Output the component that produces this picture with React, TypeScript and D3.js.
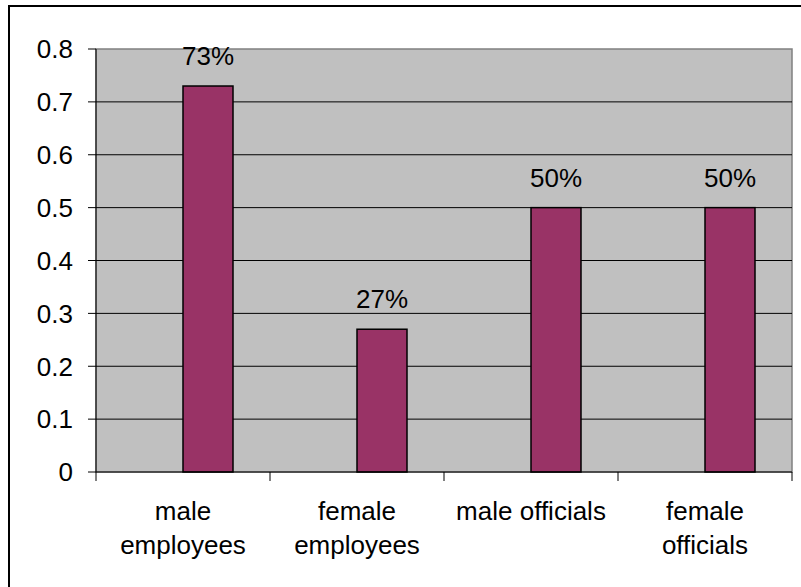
import React from "react";
import * as d3 from "d3";

const categories: string[][] = [
  ["male", "employees"],
  ["female", "employees"],
  ["male officials"],
  ["female", "officials"],
];
const categoryKeys = ["male employees", "female employees", "male officials", "female officials"];
const values = [0.73, 0.27, 0.5, 0.5];
const yTicks = [0, 0.1, 0.2, 0.3, 0.4, 0.5, 0.6, 0.7, 0.8];
const seriesKeys = ["(empty)", "share"];

const W = 801;
const H = 587;
const plot = { left: 96, right: 792, top: 49, bottom: 472 };
const FONT = "'Liberation Sans', Arial, sans-serif";
const FS = 26;

function T({ x, y, anchor, children }: { x: number; y: number; anchor: string; children: React.ReactNode }) {
  return (
    <text x={x} y={y} textAnchor={anchor} fontFamily={FONT} fontSize={FS} fill="#000">
      {children}
    </text>
  );
}

export default function App() {
  const x = d3.scaleBand<string>().domain(categoryKeys).range([plot.left, plot.right]).padding(0);
  const bw = x.bandwidth();
  const inner = d3
    .scaleBand<string>()
    .domain(seriesKeys)
    .range([0, bw])
    .paddingInner(0)
    .paddingOuter(0.74);
  const y = d3.scaleLinear().domain([0, 0.8]).range([plot.bottom, plot.top]);
  const pct = d3.format(".0%");
  const boundaries = d3.range(categoryKeys.length + 1).map((i) => plot.left + i * bw);

  return (
    <svg
      width={W}
      height={H}
      style={{ position: "absolute", left: 0, top: 0, background: "#fff" }}
    >
      <rect x={9} y={6} width={W + 20} height={H + 20} fill="#fff" stroke="#000" strokeWidth={2} />
      <rect
        x={plot.left}
        y={plot.top}
        width={plot.right - plot.left}
        height={plot.bottom - plot.top}
        fill="#C0C0C0"
        stroke="#808080"
        strokeWidth={1.5}
      />
      {yTicks.filter((t) => t > 0 && t < 0.8).map((t) => (
        <line key={t} x1={plot.left} x2={plot.right} y1={y(t)} y2={y(t)} stroke="#000" strokeWidth={1} />
      ))}
      {categoryKeys.map((c, i) => {
        const bx = (x(c) as number) + (inner(seriesKeys[1]) as number);
        const w = inner.bandwidth();
        return (
          <g key={c}>
            <rect
              x={bx}
              y={y(values[i])}
              width={w}
              height={y(0) - y(values[i])}
              fill="#993366"
              stroke="#000"
              strokeWidth={1.5}
            />
            <T x={bx + w / 2} y={y(values[i]) - 21} anchor="middle">
              {pct(values[i])}
            </T>
          </g>
        );
      })}
      <line x1={plot.left} x2={plot.left} y1={plot.top} y2={plot.bottom} stroke="#000" strokeWidth={1} />
      <line x1={plot.left} x2={plot.right} y1={plot.bottom} y2={plot.bottom} stroke="#000" strokeWidth={1} />
      {yTicks.map((t) => (
        <g key={t}>
          <line x1={plot.left - 8} x2={plot.left} y1={y(t)} y2={y(t)} stroke="#000" strokeWidth={1} />
          <T x={plot.left - 23} y={y(t) + 9.3} anchor="end">
            {String(t)}
          </T>
        </g>
      ))}
      {boundaries.map((bx, i) => (
        <line key={i} x1={bx} x2={bx} y1={plot.bottom} y2={plot.bottom + 9} stroke="#000" strokeWidth={1} />
      ))}
      {categoryKeys.map((c, i) => (
        <g key={c}>
          {categories[i].map((line, j) => (
            <T key={j} x={(x(c) as number) + bw / 2} y={520 + j * 34} anchor="middle">
              {line}
            </T>
          ))}
        </g>
      ))}
    </svg>
  );
}
